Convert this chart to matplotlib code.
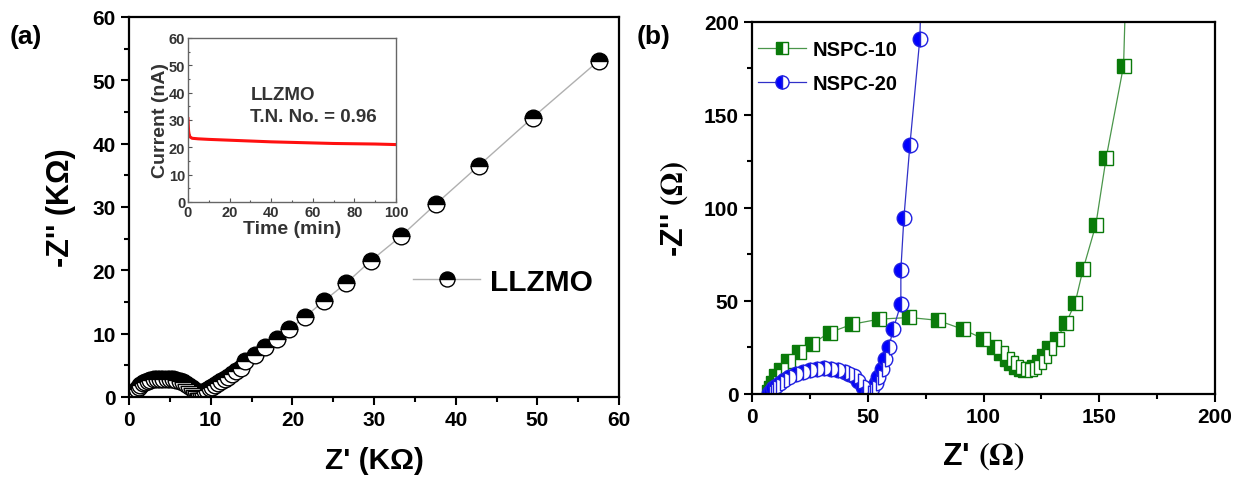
import matplotlib
matplotlib.use("Agg")
import matplotlib.pyplot as plt
from matplotlib.ticker import MultipleLocator

plt.rcParams['font.family'] = ['Liberation Sans', 'DejaVu Sans']
plt.rcParams['font.weight'] = 'bold'
plt.rcParams['mathtext.fontset'] = 'stix'

# (a) LLZMO Nyquist data (kOhm)
llzmo_x = [1.0, 1.2, 1.4, 1.7, 2.0, 2.3, 2.6, 3.0, 3.4, 3.8, 4.2, 4.6, 5.0, 5.4, 5.8, 6.2,
           6.6, 7.0, 7.4, 7.7, 8.0, 8.2, 8.4, 8.6, 8.8,
           9.0, 9.3, 9.6, 9.9, 10.2, 10.5, 10.9, 11.3, 11.7, 12.1, 12.6, 13.1, 13.7, 14.2,
           15.4, 16.6, 18.1, 19.6, 21.5, 23.9, 26.6, 29.6, 33.3, 37.6, 42.8, 49.4, 57.5]
llzmo_y = [1.2, 1.6, 1.9, 2.2, 2.4, 2.6, 2.7, 2.8, 2.9, 2.9, 2.9, 2.9, 2.9, 2.8, 2.7, 2.5,
           2.3, 2.0, 1.7, 1.4, 1.1, 0.9, 0.7, 0.6, 0.6,
           0.7, 0.9, 1.1, 1.4, 1.6, 1.9, 2.2, 2.5, 2.9, 3.2, 3.6, 4.1, 4.6, 5.7,
           6.6, 7.9, 9.2, 10.7, 12.6, 15.2, 18.0, 21.5, 25.4, 30.5, 36.5, 44.1, 53.1]

# inset: current vs time
time_min = [0, 0.3, 0.6, 1, 2, 5, 10, 20, 30, 40, 50, 60, 70, 80, 90, 100]
current_na = [30.5, 26.0, 24.5, 23.8, 23.3, 23.1, 22.9, 22.6, 22.3, 22.0, 21.8, 21.6,
              21.4, 21.3, 21.2, 21.0]

# (b) NSPC data (Ohm)
nspc10_x = [7.5, 8.0, 9.0, 10.5, 12.5, 15.5, 20.3, 26.1, 33.5, 43.4, 54.9, 68.0, 80.2,
            91.0, 99.6, 104.7, 107.5, 110.0, 112.0, 114.0, 116.0, 118.0, 120.0, 122.0,
            124.0, 126.0, 128.2, 131.7, 135.8, 139.6, 143.0, 148.5, 153.0, 160.5, 163.0]
nspc10_y = [1.0, 3.0, 6.0, 9.5, 13.0, 17.9, 22.3, 27.1, 33.0, 37.5, 40.2, 41.1, 39.6,
            34.8, 29.8, 25.0, 22.0, 19.0, 16.5, 14.5, 13.3, 12.8, 13.2, 14.5,
            17.0, 20.5, 24.5, 29.8, 38.4, 49.1, 67.0, 90.7, 127.0, 176.4, 285.0]

nspc20_x = [7.5, 8.0, 9.0, 10.5, 12.0, 14.0, 16.0, 19.0, 22.0, 25.0, 28.0, 31.0, 34.0,
            37.0, 40.0, 42.0, 44.0, 46.0, 48.0, 50.0, 51.0, 52.0, 53.5, 54.5, 56.2,
            57.6, 59.1, 61.0, 64.3, 64.3, 65.6, 68.2, 72.5, 74.0]
nspc20_y = [0.5, 1.5, 3.0, 4.5, 6.0, 7.5, 9.0, 10.5, 11.8, 12.8, 13.5, 13.8, 13.5,
            13.0, 12.0, 11.0, 9.5, 7.0, 4.0, 0.8, 1.5, 3.0, 6.0, 9.0, 13.4,
            18.8, 25.0, 34.9, 48.3, 66.7, 94.4, 133.7, 190.9, 260.0]

fig = plt.figure(figsize=(12.44, 4.81), dpi=100)


def style_main(ax, major, minor):
    ax.xaxis.set_major_locator(MultipleLocator(major))
    ax.xaxis.set_minor_locator(MultipleLocator(minor))
    ax.yaxis.set_major_locator(MultipleLocator(major))
    ax.yaxis.set_minor_locator(MultipleLocator(minor))
    ax.tick_params(which='major', direction='out', length=6, width=1.5, labelsize=15)
    ax.tick_params(which='minor', direction='out', length=3.5, width=1.5)
    for s in ax.spines.values():
        s.set_linewidth(1.6)


# ---- panel (a)
ax1 = fig.add_axes([0.1037, 0.1726, 0.394, 0.790])
ax1.plot(llzmo_x, llzmo_y, color='#b0b0b0', lw=1.0, marker='o', ms=12,
         fillstyle='top', markerfacecolor='black', markerfacecoloralt='white',
         markeredgecolor='black', markeredgewidth=1.0, label='LLZMO')
ax1.set_xlim(0, 60)
ax1.set_ylim(0, 60)
style_main(ax1, 10, 5)
ax1.set_xlabel("Z' (KΩ)", fontsize=21.5, fontweight='bold', labelpad=12)
ax1.set_ylabel("-Z'' (KΩ)", fontsize=22, fontweight='bold', labelpad=12)
ax1.legend(loc='center left', bbox_to_anchor=(0.58, 0.303), frameon=False,
           handlelength=2.25, handletextpad=0.33, borderpad=0, borderaxespad=0,
           markerscale=0.9, prop={'weight': 'bold', 'size': 21.5})
fig.text(0.008, 0.908, '(a)', fontsize=19, fontweight='bold')

# inset
axi = fig.add_axes([0.1511, 0.578, 0.1672, 0.341])
axi.plot(time_min, current_na, color='#ff1010', lw=2.2)
axi.set_xlim(0, 100)
axi.set_ylim(0, 60)
axi.xaxis.set_major_locator(MultipleLocator(20))
axi.xaxis.set_minor_locator(MultipleLocator(10))
axi.yaxis.set_major_locator(MultipleLocator(10))
axi.yaxis.set_minor_locator(MultipleLocator(5))
axi.tick_params(which='major', direction='in', length=3, width=0.8, labelsize=10.5,
                labelcolor='#333333', color='#555555', pad=2)
axi.tick_params(which='minor', direction='in', length=1.5, width=0.8, color='#555555')
for s in axi.spines.values():
    s.set_linewidth(1.0)
    s.set_color('#666666')
axi.set_xlabel('Time (min)', fontsize=14, fontweight='bold', color='#333333', labelpad=1)
axi.set_ylabel('Current (nA)', fontsize=14, fontweight='bold', color='#333333', labelpad=0)
axi.text(30, 35.2, 'LLZMO\nT.N. No. = 0.96', fontsize=13.5, fontweight='bold',
         color='#333333', va='center', linespacing=1.35)

# ---- panel (b)
ax2 = fig.add_axes([0.6045, 0.1788, 0.3722, 0.774])
ax2.plot(nspc10_x, nspc10_y, color='#4a964a', lw=0.9, marker='s', ms=10,
         fillstyle='left', markerfacecolor='#0a7a0a', markerfacecoloralt='white',
         markeredgecolor='#0a7a0a', markeredgewidth=1.0, label='NSPC-10')
ax2.plot(nspc20_x, nspc20_y, color='#3030c8', lw=0.9, marker='o', ms=10.5,
         fillstyle='left', markerfacecolor='#0000ff', markerfacecoloralt='white',
         markeredgecolor='#2020e0', markeredgewidth=1.0, label='NSPC-20')
ax2.set_xlim(0, 200)
ax2.set_ylim(0, 200)
style_main(ax2, 50, 25)
ax2.set_xlabel(r"Z' $(\Omega)$", fontsize=23, fontweight='bold', labelpad=10)
ax2.set_ylabel(r"-Z'' $(\Omega)$", fontsize=22, fontweight='bold', labelpad=10)
ax2.legend(loc='upper left', bbox_to_anchor=(0.013, 0.95), frameon=False,
           handlelength=2.4, handletextpad=0.3, labelspacing=0.75,
           borderpad=0, borderaxespad=0, markerscale=0.9,
           prop={'weight': 'bold', 'size': 14.5})
fig.text(0.512, 0.908, '(b)', fontsize=19, fontweight='bold')

fig.savefig('out.png', dpi=100)
